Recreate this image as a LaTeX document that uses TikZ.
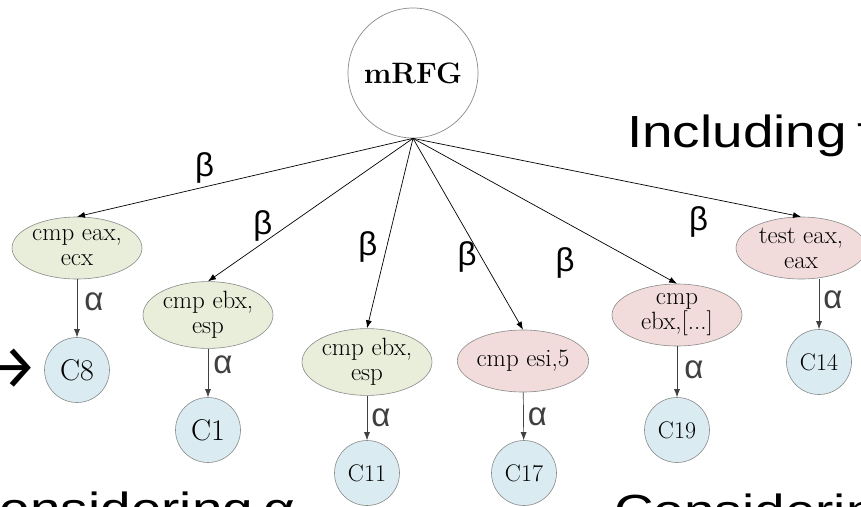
\documentclass[tikz,border=0pt]{standalone}
\usepackage{fontspec}
\usetikzlibrary{shapes.geometric,arrows.meta}
\newfontfamily\slidefont[FakeStretch=1.22,WordSpace=0.7]{Liberation Sans}
\newfontfamily\greekfont{Liberation Sans}
\newfontfamily\arrowfont{Fira Sans}

\definecolor{opgreen}{HTML}{E9EEDA}
\definecolor{oppink}{HTML}{F2DCDB}
\definecolor{clblue}{HTML}{DAEBF1}
\definecolor{rim}{HTML}{8A8A8A}

\begin{document}
\begin{tikzpicture}[x=1pt,y=-1pt,
  root/.style={circle, draw=rim, fill=white, line width=0.7pt, minimum size=130pt,
    inner sep=0pt, font=\fontsize{29.5}{32}\selectfont\bfseries},
  opnode/.style={ellipse, draw=rim, line width=0.6pt, minimum width=130pt,
    minimum height=62pt, inner sep=0pt, align=center, font=\fontsize{25}{25}\selectfont},
  cmpok/.style={opnode, fill=opgreen},
  cmpbad/.style={opnode, fill=oppink},
  cluster/.style={circle, draw=rim, fill=clblue, line width=0.6pt, minimum size=65pt,
    inner sep=0pt, font=\fontsize{24}{26}\selectfont},
  bigcluster/.style={cluster, font=\fontsize{30}{32}\selectfont},
  betaedge/.style={-{Latex[length=8pt,width=6pt]}, line width=0.7pt, black},
  alphaedge/.style={-{Latex[length=8pt,width=6pt]}, line width=0.7pt, black!75},
  sym/.style={font=\greekfont\fontsize{33}{35}\selectfont, inner sep=0pt},
  slide/.style={font=\slidefont\fontsize{45}{50}\selectfont, inner sep=0pt}
]
\useasboundingbox (0,0) rectangle (861,506);

% root of the graph
\node[root] (m) at (413,73) {mRFG};

% compare / test instructions
\node[cmpok]  (e1) at (77,248)  {cmp eax,\\ecx};
\node[cmpok]  (e2) at (208,315) {cmp ebx,\\esp};
\node[cmpok]  (e3) at (367,362) {cmp ebx,\\esp};
\node[cmpbad] (e4) at (523,361) {cmp esi,5};
\node[cmpbad] (e5) at (677,315) {cmp\\ebx,[...]};
\node[cmpbad] (e6) at (801,248) {test eax,\\eax};

% clusters
\node[bigcluster] (c8)  at (77,370)  {C8};
\node[bigcluster] (c1)  at (208,430) {C1};
\node[cluster]    (c11) at (367,473) {C11};
\node[cluster]    (c17) at (524,473) {C17};
\node[cluster]    (c19) at (677,430) {C19};
\node[cluster]    (c14) at (819,362) {C14};

% beta edges from the root
\draw[betaedge] (m.south) -- node[sym, pos=0.62,  yshift=19pt]  (b1) {β} (e1.north);
\draw[betaedge] (m.south) -- node[sym, pos=0.732, yshift=17pt]  (b2) {β} (e2.north);
\draw[betaedge] (m.south) -- node[sym, pos=0.57,  xshift=-19pt] (b3) {β} (e3.north);
\draw[betaedge] (m.south) -- node[sym, pos=0.62,  xshift=-14pt] (b4) {β} (e4.north);
\draw[betaedge] (m.south) -- node[sym, pos=0.576, yshift=-41pt] (b5) {β} (e5.north);
\draw[betaedge] (m.south) -- node[sym, pos=0.736, yshift=-26pt] (b6) {β} (e6.north);

% alpha edges to the clusters
\draw[alphaedge] (e1) -- node[sym, pos=0.39, xshift=17pt] (a1) {α} (c8);
\draw[alphaedge] (e2) -- node[sym, pos=0.34, xshift=15pt] (a2) {α} (c1);
\draw[alphaedge] (e3) -- node[sym, pos=0.49, xshift=14pt] (a3) {α} (c11);
\draw[alphaedge] (e4) -- node[sym, pos=0.51, xshift=14pt] (a4) {α} (c17);
\draw[alphaedge] (e5) -- node[sym, pos=0.46, xshift=17pt] (a5) {α} (c19);
\draw[alphaedge] (e6.south -| c14.north) -- node[sym, pos=0.41, xshift=14pt] (a6) {α} (c14);

% surrounding slide text
\node[slide, anchor=base west] (inc)  at (627,147) {Including t};
\node[inner sep=0pt, anchor=east, font=\arrowfont\fontsize{62}{62}\selectfont] (arr) at (39,369) {→};
\node[slide, anchor=base west] (conl) at (-40,524) {Considering α};
\node[slide, anchor=base west] (conr) at (614,526) {Considering};
\end{tikzpicture}
\end{document}
